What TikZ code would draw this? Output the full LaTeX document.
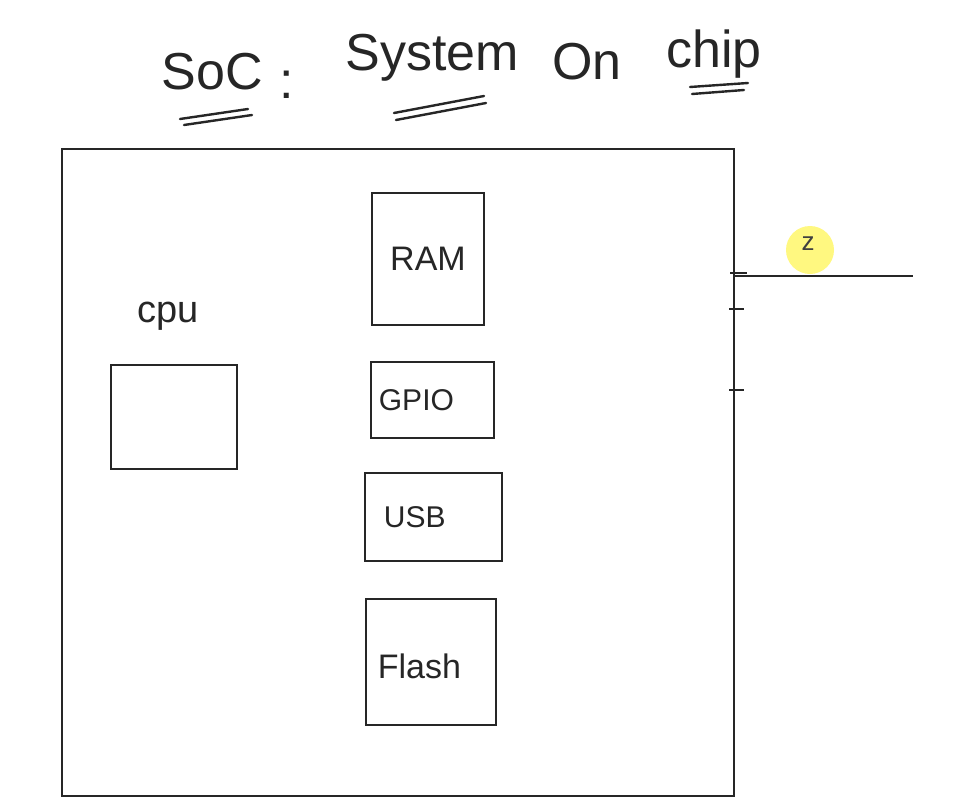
\documentclass[tikz,border=0pt]{standalone}
\usepackage{fontspec}
\setmainfont{Liberation Sans}
\begin{document}
\begin{tikzpicture}[x=1pt,y=-1pt,
  box/.style={draw=black!85,line width=2.6pt},
  lbl/.style={font=\fontsize{34}{36}\selectfont,text=black!85,inner sep=0pt},
  ttl/.style={font=\fontsize{52}{54}\selectfont,text=black!85,inner sep=0pt},
  uline/.style={draw=black!85,line width=2.4pt,line cap=round},
  tick/.style={draw=black!85,line width=2.4pt}]
\useasboundingbox[fill=white] (0,0) rectangle (971,798);
% title
\node[ttl] (soc) at (212,72) {SoC};
\node[ttl] (colon) at (287,85) {:};
\node[ttl] (system) at (432,58) {System};
\node[ttl] (on) at (587,62) {On};
\node[ttl] (chip) at (714,54) {chip};
\coordinate (u1a) at (180,119); \coordinate (u1b) at (248,109);
\coordinate (u2a) at (184,125); \coordinate (u2b) at (252,115);
\draw[uline] (u1a) -- (u1b);
\draw[uline] (u2a) -- (u2b);
\coordinate (s1a) at (394,113); \coordinate (s1b) at (484,96);
\coordinate (s2a) at (396,120); \coordinate (s2b) at (486,103);
\draw[uline] (s1a) -- (s1b);
\draw[uline] (s2a) -- (s2b);
\coordinate (c1a) at (690,87); \coordinate (c1b) at (748,83);
\coordinate (c2a) at (692,94); \coordinate (c2b) at (744,90);
\draw[uline] (c1a) -- (c1b);
\draw[uline] (c2a) -- (c2b);
% outer chip
\node[box,minimum width=672pt,minimum height=647pt,inner sep=0pt] (chipbox) at (398,472.5) {};
% inner blocks
\node[box,minimum width=112pt,minimum height=132pt,inner sep=0pt] (ram) at (428,259) {};
\node[lbl] at (ram.center) {RAM};
\node[box,minimum width=123pt,minimum height=76pt,inner sep=0pt] (gpio) at (432.5,400) {};
\node[lbl,font=\fontsize{30}{32}\selectfont,anchor=west] at ([xshift=9pt]gpio.west) {GPIO};
\node[box,minimum width=137pt,minimum height=88pt,inner sep=0pt] (usb) at (433.5,517) {};
\node[lbl,font=\fontsize{30}{32}\selectfont,anchor=west] at ([xshift=20pt]usb.west) {USB};
\node[box,minimum width=130pt,minimum height=126pt,inner sep=0pt] (flash) at (431,662) {};
\node[lbl,anchor=west] at ([xshift=13pt,yshift=-4pt]flash.west) {Flash};
\node[box,minimum width=126pt,minimum height=104pt,inner sep=0pt] (cpu) at (174,417) {};
\node[lbl,font=\fontsize{38}{40}\selectfont] (cpulbl) at (168,316) {cpu};
% right side
\coordinate (p0) at (734,276);
\coordinate (p1) at (913,276);
\draw[draw=black!85,line width=2.6pt] (p0) -- (p1);
\coordinate (t1a) at (730,273); \coordinate (t1b) at (747,273);
\coordinate (t2a) at (729,309); \coordinate (t2b) at (744,309);
\coordinate (t3a) at (729,390); \coordinate (t3b) at (744,390);
\draw[tick] (t1a) -- (t1b);
\draw[tick] (t2a) -- (t2b);
\draw[tick] (t3a) -- (t3b);
\fill[yellow!55!white,opacity=0.9] (810,250) circle (24pt);
\node[inner sep=0pt,font=\fontsize{26}{28}\selectfont,text=black!75] (z) at (808,244) {z};
\end{tikzpicture}
\end{document}
